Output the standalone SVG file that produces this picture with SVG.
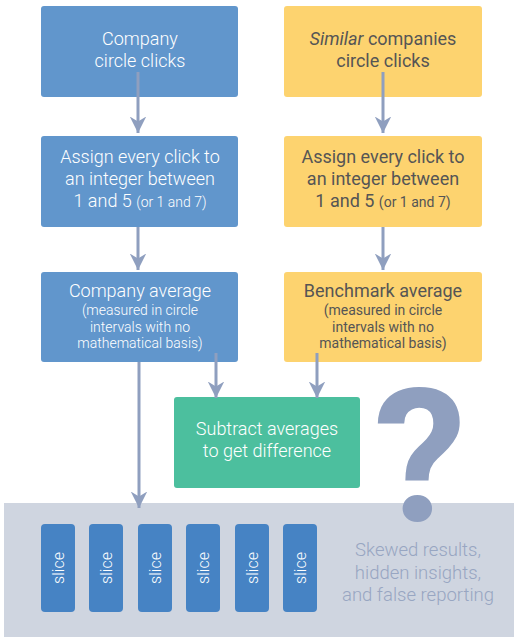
<svg xmlns="http://www.w3.org/2000/svg" width="519" height="637" viewBox="0 0 519 637">
<style>
.blue{fill:#6196CC}
.yel{fill:#FDD36F}
.grn{fill:#4CBF9E}
.slice{fill:#4683C4}
text{font-family:Roboto,"Liberation Sans",sans-serif;text-anchor:middle}
.wt{fill:#fff;font-family:"Roboto Light",Roboto,"Liberation Sans",sans-serif;font-weight:300}
.lt{font-family:"Roboto Light",Roboto,"Liberation Sans",sans-serif;font-weight:300}
.dk{fill:#555;font-weight:400}
.big{font-size:18px}
.sm{font-size:14px}
.conn{stroke:#8F9FBF;stroke-width:3;fill:none}
</style>
<defs>
<marker id="ah" viewBox="0 0 10 10" refX="10" refY="5" markerWidth="5.5" markerHeight="5.5" orient="auto" markerUnits="strokeWidth">
<path d="M0,0 L10,5 L0,10 L3,5 Z" fill="#8F9FBF"/>
</marker>
</defs>
<rect x="4" y="503" width="510" height="134" fill="#CFD5E0"/>
<g id="n1"><rect class="blue" x="41" y="6" width="197" height="91" rx="3"/>
<text class="wt big" x="140" y="45">Company</text><text class="wt big" x="140" y="67">circle clicks</text></g>
<g id="n2"><rect class="blue" x="41" y="136" width="197" height="91" rx="3"/>
<text class="wt big" x="140" y="163">Assign every click to</text><text class="wt big" x="140" y="185">an integer between</text><text class="wt big" x="140" y="207">1 and 5 <tspan class="sm">(or 1 and 7)</tspan></text></g>
<g id="n3"><rect class="blue" x="41" y="272" width="197" height="90" rx="3"/>
<text class="wt big" x="140" y="297">Company average</text><text class="wt sm" x="140" y="315">(measured in circle</text><text class="wt sm" x="140" y="332">intervals with no</text><text class="wt sm" x="140" y="348">mathematical basis)</text></g>
<g id="y1"><rect class="yel" x="284" y="6" width="198" height="91" rx="3"/>
<text class="dk big" x="383" y="45"><tspan font-style="italic">Similar</tspan> companies</text><text class="dk big" x="383" y="67">circle clicks</text></g>
<g id="y2"><rect class="yel" x="284" y="136" width="198" height="91" rx="3"/>
<text class="dk big" x="383" y="163">Assign every click to</text><text class="dk big" x="383" y="185">an integer between</text><text class="dk big" x="383" y="207">1 and 5 <tspan class="sm">(or 1 and 7)</tspan></text></g>
<g id="y3"><rect class="yel" x="284" y="272" width="198" height="90" rx="3"/>
<text class="dk big" x="383" y="297">Benchmark average</text><text class="dk sm" x="383" y="315">(measured in circle</text><text class="dk sm" x="383" y="332">intervals with no</text><text class="dk sm" x="383" y="348">mathematical basis)</text></g>
<g id="sub"><rect class="grn" x="174" y="397" width="186" height="91" rx="3"/>
<text class="wt big" x="267" y="435">Subtract averages</text><text class="wt big" x="267" y="457">to get difference</text></g>
<g id="q"><text x="420" y="521" font-size="186" font-weight="700" fill="#8F9FBF">?</text></g>
<g id="slices">
<rect class="slice" x="41" y="524" width="34" height="88" rx="4"/>
<rect class="slice" x="89" y="524" width="34" height="88" rx="4"/>
<rect class="slice" x="138" y="524" width="34" height="88" rx="4"/>
<rect class="slice" x="186" y="524" width="34" height="88" rx="4"/>
<rect class="slice" x="235" y="524" width="34" height="88" rx="4"/>
<rect class="slice" x="283" y="524" width="34" height="88" rx="4"/>
<text class="wt" font-size="16" transform="translate(64,568) rotate(-90)">slice</text>
<text class="wt" font-size="16" transform="translate(112,568) rotate(-90)">slice</text>
<text class="wt" font-size="16" transform="translate(161,568) rotate(-90)">slice</text>
<text class="wt" font-size="16" transform="translate(209,568) rotate(-90)">slice</text>
<text class="wt" font-size="16" transform="translate(258,568) rotate(-90)">slice</text>
<text class="wt" font-size="16" transform="translate(306,568) rotate(-90)">slice</text>
</g>
<g id="result"><text class="lt" font-size="18.5" fill="#98A6C2" x="418" y="556">Skewed results,</text><text class="lt" font-size="18.5" fill="#98A6C2" x="418" y="579">hidden insights,</text><text class="lt" font-size="18.5" fill="#98A6C2" x="418" y="601">and false reporting</text></g>
<g id="connectors">
<line class="conn" x1="138" y1="72" x2="138" y2="133" marker-end="url(#ah)"/>
<line class="conn" x1="383" y1="72" x2="383" y2="133" marker-end="url(#ah)"/>
<line class="conn" x1="138" y1="227" x2="138" y2="270" marker-end="url(#ah)"/>
<line class="conn" x1="383" y1="227" x2="383" y2="270" marker-end="url(#ah)"/>
<line class="conn" x1="216" y1="353" x2="216" y2="398" marker-end="url(#ah)"/>
<line class="conn" x1="317" y1="353" x2="317" y2="398" marker-end="url(#ah)"/>
<line class="conn" x1="139" y1="362" x2="139" y2="508" marker-end="url(#ah)"/>
</g>
</svg>
